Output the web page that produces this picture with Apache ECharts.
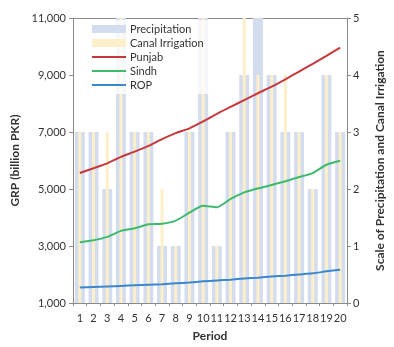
<!DOCTYPE html>
<html>
<head>
<meta charset="utf-8">
<script src="https://cdn.jsdelivr.net/npm/echarts@6/dist/echarts.min.js"></script>
<style>
  html, body { margin: 0; padding: 0; background: #fff; }
  #chart { width: 394px; height: 347px; }
</style>
</head>
<body>
<div id="chart"></div>
<script>
// Periods on the x axis
const periods = ['1','2','3','4','5','6','7','8','9','10','11','12','13','14','15','16','17','18','19','20'];

// Scale values (right axis, 0-5)
const precipitation = [3, 3, 2, 5, 3, 3, 1, 1, 3, 5, 1, 3, 4, 5, 4, 3, 3, 2, 4, 3];
const canalIrrigation = [3, 3, 3, 5, 3, 3, 2, 1, 3, 5, 1, 3, 5, 4, 4, 4, 3, 2, 4, 3];

// Gross regional product, billion PKR (left axis)
const punjab = [5560, 5730, 5900, 6130, 6310, 6510, 6750, 6960, 7130, 7370, 7640, 7880, 8120, 8360, 8590, 8850, 9120, 9390, 9670, 9960];
const sindh = [3130, 3200, 3320, 3530, 3620, 3760, 3780, 3890, 4170, 4410, 4360, 4650, 4880, 5020, 5140, 5270, 5420, 5560, 5850, 5990];
const rop = [1540, 1560, 1580, 1600, 1620, 1640, 1660, 1690, 1720, 1760, 1790, 1820, 1860, 1890, 1930, 1960, 2000, 2040, 2110, 2170];

const font = 'Lato, "Open Sans", sans-serif';
const axisGray = '#8a8a8a';
const labelColor = '#333';

// Legend icon for the line series: a thin horizontal stroke centred in the icon box
// (the two zero-area segments only stretch the path's bounds to the full box height).
const lineIcon = 'path://M0,0 L0.01,0 M0,8 L0.01,8 M0,3.1 L34,3.1 L34,4.9 L0,4.9 Z';

const chart = echarts.init(document.getElementById('chart'), null, { renderer: 'canvas' });

chart.setOption({
  animation: false,
  textStyle: { fontFamily: font },
  grid: { left: 73, right: 39, top: 18, bottom: 37 },
  legend: {
    orient: 'vertical',
    left: 88,
    top: 20,
    itemWidth: 34,
    itemHeight: 8,
    itemGap: 0,
    padding: [2, 6, 2, 4],
    backgroundColor: 'rgba(255,255,255,0.75)',
    textStyle: { fontSize: 11, color: labelColor, fontFamily: font, lineHeight: 14, padding: [0, 0, 0, -1] },
    data: [
      { name: 'Precipitation', icon: 'rect' },
      { name: 'Canal Irrigation', icon: 'rect' },
      { name: 'Punjab', icon: lineIcon },
      { name: 'Sindh', icon: lineIcon },
      { name: 'ROP', icon: lineIcon }
    ]
  },
  xAxis: [
    {
      type: 'category',
      data: periods,
      position: 'bottom',
      name: 'Period',
      nameLocation: 'middle',
      nameGap: 27,
      nameTextStyle: { fontSize: 12, fontWeight: 'bold', color: labelColor },
      axisLine: { lineStyle: { color: axisGray } },
      axisTick: { show: true, length: 3, lineStyle: { color: axisGray } },
      axisLabel: { fontSize: 11, color: labelColor, margin: 10, interval: 0 }
    },
    {
      type: 'category',
      data: periods,
      position: 'top',
      axisLine: { show: true, lineStyle: { color: axisGray } },
      axisTick: { show: false },
      axisLabel: { show: false }
    }
  ],
  yAxis: [
    {
      type: 'value',
      min: 1000,
      max: 11000,
      interval: 2000,
      position: 'left',
      name: 'GRP (billion PKR)',
      nameLocation: 'middle',
      nameRotate: 90,
      nameGap: 48,
      nameTextStyle: { fontSize: 12, fontWeight: 'bold', color: labelColor },
      axisLine: { show: true, lineStyle: { color: axisGray } },
      axisTick: { show: true, length: 4, lineStyle: { color: axisGray } },
      axisLabel: {
        fontSize: 11, color: labelColor, margin: 7,
        formatter: v => v.toLocaleString('en-US')
      },
      splitLine: { show: false }
    },
    {
      type: 'value',
      min: 0,
      max: 5,
      interval: 1,
      position: 'right',
      name: 'Scale of Precipitation and Canal Irrigation',
      nameLocation: 'middle',
      nameRotate: 90,
      nameGap: 27,
      nameTextStyle: { fontSize: 12, fontWeight: 'bold', color: labelColor },
      axisLine: { show: true, lineStyle: { color: axisGray } },
      axisTick: { show: true, length: 4, lineStyle: { color: axisGray } },
      axisLabel: { fontSize: 11, color: labelColor, margin: 6 },
      splitLine: { show: false }
    }
  ],
  series: [
    {
      name: 'Precipitation',
      type: 'bar',
      xAxisIndex: 0,
      yAxisIndex: 1,
      data: precipitation,
      barWidth: 10,
      itemStyle: { color: '#d4ddf0' },
      z: 1
    },
    {
      name: 'Canal Irrigation',
      type: 'bar',
      xAxisIndex: 1,
      yAxisIndex: 1,
      data: canalIrrigation,
      barWidth: 3,
      itemStyle: { color: '#fcefc9' },
      z: 2
    },
    {
      name: 'Punjab',
      type: 'line',
      yAxisIndex: 0,
      data: punjab,
      symbol: 'none',
      smooth: 0.2,
      lineStyle: { color: '#c4393d', width: 2 },
      itemStyle: { color: '#c4393d' },
      z: 5
    },
    {
      name: 'Sindh',
      type: 'line',
      yAxisIndex: 0,
      data: sindh,
      symbol: 'none',
      smooth: 0.2,
      lineStyle: { color: '#3dba6c', width: 2 },
      itemStyle: { color: '#3dba6c' },
      z: 5
    },
    {
      name: 'ROP',
      type: 'line',
      yAxisIndex: 0,
      data: rop,
      symbol: 'none',
      smooth: 0.2,
      lineStyle: { color: '#3a87cd', width: 2 },
      itemStyle: { color: '#3a87cd' },
      z: 5
    }
  ]
});
</script>
</body>
</html>
